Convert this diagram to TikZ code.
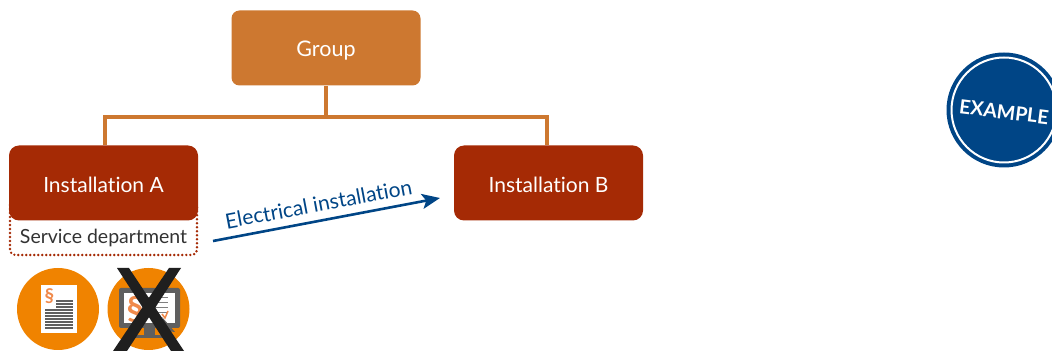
\documentclass[tikz,border=0pt]{standalone}
\usepackage{fontspec}
\setmainfont[Ligatures=NoCommon]{Lato}
\usetikzlibrary{arrows.meta}
\definecolor{grp}{HTML}{CD7830}
\definecolor{inst}{HTML}{A52A05}
\definecolor{navy}{HTML}{004586}
\definecolor{org}{HTML}{F08300}
\definecolor{sect}{HTML}{F08A4B}
\definecolor{mon}{HTML}{5F5F5F}
\definecolor{txt}{HTML}{333333}
\tikzset{
 x=1pt,y=-1pt,
 groupbox/.style={fill=grp,rounded corners=8pt,minimum width=189pt,minimum height=75pt,text=white,font=\fontsize{21.5}{24}\selectfont,inner sep=0pt},
 instbox/.style={fill=inst,rounded corners=10pt,minimum width=189pt,minimum height=75pt,text=white,font=\fontsize{21}{24}\selectfont,inner sep=0pt},
 link/.style={draw=grp,line width=3.2pt},
 iconbg/.style={fill=org,circle,minimum size=82pt,inner sep=0pt},
 docline/.style={draw=mon,line width=1.3pt},
}
\begin{document}
\begin{tikzpicture}
\useasboundingbox (0,0) rectangle (1052,352);
\node[groupbox] (g) at (326,48) {\rule{0pt}{21pt}Group};
\node[instbox] (b) at (548.5,183) {\rule{0pt}{18.5pt}Installation B};
\draw[draw=inst,line width=2.7pt,dash pattern=on 0pt off 4pt,rounded corners=5pt,line cap=round] (10,205) -- (10,255) -- (197,255) -- (197,205);
\node[instbox] (a) at (103.5,183) {\rule{0pt}{18.5pt}Installation A};
\node[text=txt,font=\fontsize{19.5}{24}\selectfont,inner sep=0pt] (sd) at (103.5,238) {Service department};
\coordinate (m) at (326,117);
\draw[link] (g.south) -- (m);
\draw[link] (a.north -| 105,0) -- (105,117) -- (547,117) -- (b.north -| 547,0);
\coordinate (s) at (213,241);
\coordinate (e) at (440,198);
\draw[draw=navy,line width=2.6pt,-{Stealth[length=18pt,width=15pt,inset=4pt]}] (s) -- (e);
\node[text=navy,rotate=10.7,font=\fontsize{21}{24}\selectfont,inner sep=0pt] (lbl) at (318.5,204) {Electrical installation};
\node[iconbg] (i1) at (58,309) {};
\node[iconbg] (i2) at (148.5,309) {};
% document icon
\fill[white] (41,285) rectangle (77,333);
\foreach \y in {301,304,307,310,313,316,319,322,325,328} {\draw[docline] (\ifnum\y<310 56\else 45\fi,\y) -- (73,\y);}
\node[text=sect,font=\bfseries\fontsize{19}{19}\selectfont,inner sep=0pt] (p1) at (49.5,296) {§};
% monitor icon
\fill[mon,rounded corners=2pt] (119,288) rectangle (180,328);
\fill[white] (124,293) rectangle (175,323);
\fill[mon] (144,328) rectangle (155,335);
\fill[mon] (134,335) rectangle (167,338);
\node[text=sect,font=\bfseries\fontsize{33}{33}\selectfont,inner sep=0pt] (p2) at (135,309) {§};
\foreach \y in {298,303,308,313} {\draw[draw=gray,line width=1pt] (147,\y) -- (168,\y);}
\draw[draw=sect,line width=1.5pt] (162,314) -- (165,318) -- (168,311);
\fill[mon] (162,317) -- (175,332) -- (167,331) -- (165,324) -- cycle;
% cross
\fill[black!88] (117,268) -- (129,268) -- (184,351) -- (171,351) -- cycle;
\fill[black!88] (169,268) -- (181,268) -- (127,351) -- (113,351) -- cycle;
% badge
\fill[navy] (1004,110) circle (57.5);
\draw[white,line width=2pt] (1004,110) circle (52.5);
\node[text=white,rotate=-7,font=\bfseries\fontsize{19.5}{22}\selectfont,inner sep=0pt] (ex) at (1004,112) {EXAMPLE};
\end{tikzpicture}
\end{document}
